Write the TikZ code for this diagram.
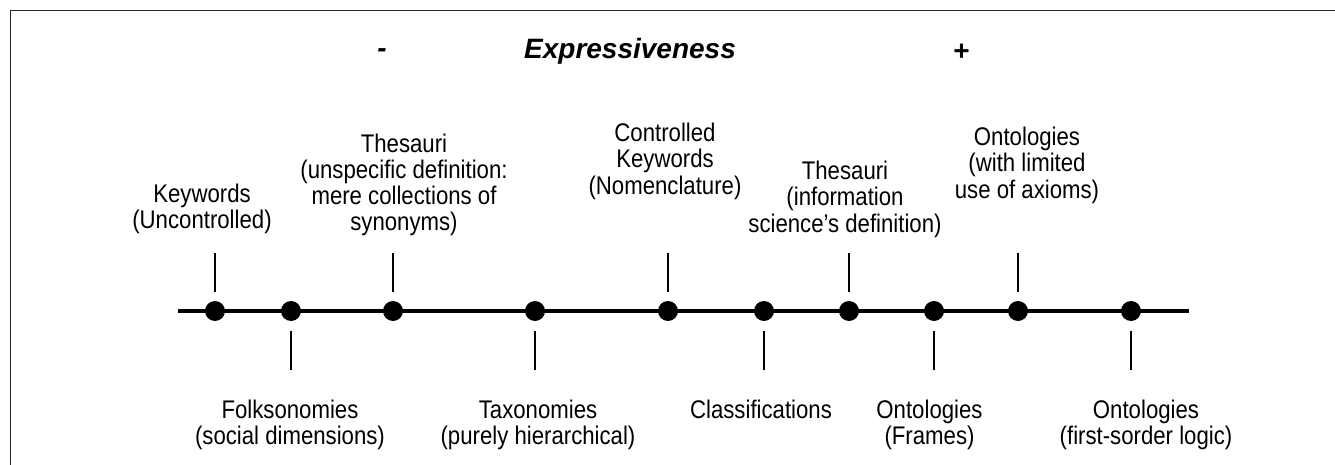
\documentclass[tikz,border=0pt]{standalone}
\usepackage{fontspec}
\setmainfont{Liberation Sans}
\newfontfamily\condfont{Liberation Sans}[FakeStretch=0.87]
\newfontfamily\headfont{Liberation Sans}[BoldItalicFont={Liberation Sans Bold Italic}]
\begin{document}
\begin{tikzpicture}[x=1pt,y=-1pt,
  framestyle/.style={line width=1.4pt,draw=black!85},
  axisstyle/.style={line width=4pt},
  dotstyle/.style={circle,fill=black,inner sep=0pt,minimum size=20pt},
  tickstyle/.style={line width=2pt},
  lbl/.style={align=center,anchor=base,inner sep=0pt,font=\condfont\fontsize{25.5}{26}\selectfont},
  headstyle/.style={anchor=base,inner sep=0pt,font=\headfont\bfseries\itshape\fontsize{28}{30}\selectfont}]
\useasboundingbox (0,0) rectangle (1335,465);
% frame (top and left edges)
\draw[framestyle] (10.5,465) -- (10.5,10.5) -- (1335,10.5);
% header
\node[headstyle] (minus) at (382,57.5) {-};
\node[headstyle] (expr) at (630,59) {Expressiveness};
\node[headstyle] (plus) at (961,61) {+};
% axis
\coordinate (axL) at (178,311);
\coordinate (axR) at (1189,311);
\draw[axisstyle] (axL) -- (axR);
% dots
\node[dotstyle] (d1) at (215,311) {};
\node[dotstyle] (d2) at (291,311) {};
\node[dotstyle] (d3) at (393,311) {};
\node[dotstyle] (d4) at (535,311) {};
\node[dotstyle] (d5) at (668,311) {};
\node[dotstyle] (d6) at (764,311) {};
\node[dotstyle] (d7) at (849,311) {};
\node[dotstyle] (d8) at (934,311) {};
\node[dotstyle] (d9) at (1018,311) {};
\node[dotstyle] (d10) at (1131,311) {};
% upper ticks
\foreach \d in {d1,d3,d5,d7,d9}
  \draw[tickstyle] ([yshift=19pt]\d.center) -- ([yshift=58pt]\d.center);
% lower ticks
\foreach \d in {d2,d4,d6,d8,d10}
  \draw[tickstyle] ([yshift=-20pt]\d.center) -- ([yshift=-59pt]\d.center);
% upper labels (anchor = baseline of last line)
\node[lbl] (l1) at (202,228.5) {Keywords\\(Uncontrolled)};
\node[lbl] (l3) at (404,230) {Thesauri\\(unspecific definition:\\mere collections of\\synonyms)};
\node[lbl] (l5) at (665,194) {Controlled\\Keywords\\(Nomenclature)};
\node[lbl] (l7) at (845,232) {Thesauri\\(information\\science’s definition)};
\node[lbl] (l9) at (1027,198) {Ontologies\\(with limited\\use of axioms)};
% lower labels
\node[lbl] (l2) at (290,444) {Folksonomies\\(social dimensions)};
\node[lbl] (l4) at (538,444) {Taxonomies\\(purely hierarchical)};
\node[lbl] (l6) at (761,418) {Classifications};
\node[lbl] (l8) at (929.5,444) {Ontologies\\(Frames)};
\node[lbl] (l10) at (1146,444) {Ontologies\\(first-sorder logic)};
\end{tikzpicture}
\end{document}
